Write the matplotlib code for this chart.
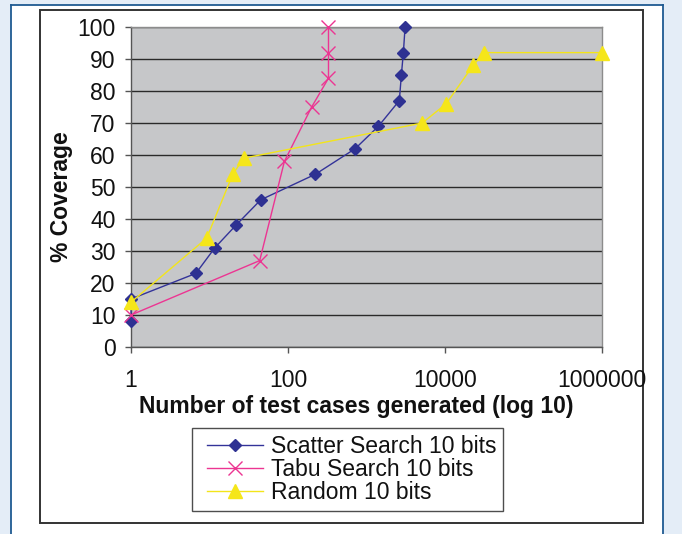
import matplotlib
matplotlib.use('Agg')
import matplotlib.pyplot as plt
from matplotlib.patches import Rectangle
from matplotlib.lines import Line2D
from matplotlib.ticker import FixedLocator, FixedFormatter, NullLocator
from matplotlib.legend_handler import HandlerLine2D

plt.rcParams['font.family'] = ['Liberation Sans', 'DejaVu Sans']

# ---- data ----
scatter_x = [1, 1, 6.7, 11.7, 21.6, 45, 224, 720, 1420, 2620, 2780, 2950, 3100]
scatter_y = [8, 15, 23, 31, 38, 46, 54, 62, 69, 77, 85, 92, 100]

tabu_x = [1, 43.6, 90, 200, 328, 328, 328]
tabu_y = [10, 27, 58, 75, 84, 92, 100]

random_x = [1, 9.2, 19.8, 27.3, 5130, 10360, 22800, 31500, 1000000]
random_y = [14, 34, 54, 59, 70, 76, 88, 92, 92]

x_ticks = [1, 100, 10000, 1000000]
x_tick_labels = ['1', '100', '10000', '1000000']
y_ticks = list(range(0, 101, 10))

series_names = ['Scatter Search 10 bits', 'Tabu Search 10 bits', 'Random 10 bits']

W, H = 682, 534
fig = plt.figure(figsize=(W / 100, H / 100), dpi=100)
fig.patch.set_facecolor('#E4EDF7')

def fx(px):
    return px / W

def fy(py):
    return 1 - py / H

# white panel with blue edges
fig.patches.append(Rectangle((fx(11), 0), fx(663) - fx(11), fy(5), transform=fig.transFigure,
                             facecolor='white', edgecolor='none', zorder=-3))
for xs, ys in [([fx(11), fx(11)], [0, fy(5)]), ([fx(663), fx(663)], [0, fy(5)]),
               ([fx(11), fx(663)], [fy(5), fy(5)])]:
    fig.lines.append(Line2D(xs, ys, transform=fig.transFigure, color='#1F5A92', lw=1.3, zorder=-2))
# black chart border
fig.patches.append(Rectangle((fx(40), fy(523)), fx(643) - fx(40), fy(9.5) - fy(523),
                             transform=fig.transFigure, facecolor='none', edgecolor='#333333',
                             lw=1.4, zorder=-1))

ax = fig.add_axes([fx(131), fy(347), fx(602) - fx(131), fy(27) - fy(347)])
ax.set_facecolor('#C6C7C9')
ax.set_xscale('log')
ax.set_xlim(1, 1000000)
ax.set_ylim(0, 100)

ax.xaxis.set_major_locator(FixedLocator(x_ticks))
ax.xaxis.set_major_formatter(FixedFormatter(x_tick_labels))
ax.xaxis.set_minor_locator(NullLocator())
ax.set_yticks(y_ticks)
ax.set_yticklabels([str(v) for v in y_ticks])

ax.grid(axis='y', color='#2A2A2A', lw=1.0, zorder=0)
ax.set_axisbelow(True)
for s in ['top', 'right']:
    ax.spines[s].set_color('#8C8C8C')
    ax.spines[s].set_linewidth(1.0)
for s in ['left', 'bottom']:
    ax.spines[s].set_color('#555555')
    ax.spines[s].set_linewidth(1.0)

ax.tick_params(axis='x', direction='out', length=4, width=1, color='#555555',
               labelsize=16.5, pad=12, labelcolor='#111111')
ax.tick_params(axis='y', direction='out', length=4, width=1, color='#555555',
               labelsize=16.5, pad=7, labelcolor='#111111')

l1, = ax.plot(scatter_x, scatter_y, color='#333399', lw=1.0, marker='D', ms=6.6,
              markerfacecolor='#2E3192', markeredgecolor='#2E3192', label=series_names[0],
              zorder=3, clip_on=False)
l2, = ax.plot(tabu_x, tabu_y, color='#EC3592', lw=1.0, marker='x', ms=9.5, mew=1.0,
              markeredgecolor='#EC3592', label=series_names[1], zorder=4, clip_on=False)
l3, = ax.plot(random_x, random_y, color='#F3E51A', lw=1.0, marker='^', ms=10.5,
              markerfacecolor='#F5E61A', markeredgecolor='#F5E61A', label=series_names[2],
              zorder=5, clip_on=False)

ax.set_xlabel('Number of test cases generated (log 10)', fontsize=16.5, fontweight='bold', color='#111111')
ax.xaxis.set_label_coords((356 - 131) / 471, -(406 - 347) / 320)
ax.xaxis.label.set_va('center')
ax.set_ylabel('% Coverage', fontsize=16.5, fontweight='bold', color='#111111')
ax.yaxis.set_label_coords((62 - 131) / 471, (347 - 197) / 320)
ax.yaxis.label.set_va('center')

hmap = {h: HandlerLine2D(xpad=0.35) for h in (l1, l2, l3)}
leg = fig.legend(handles=[l1, l2, l3], labels=series_names, handler_map=hmap,
                 loc='upper left', bbox_to_anchor=(fx(192), fy(428)), bbox_transform=fig.transFigure,
                 fontsize=16.5, frameon=True, fancybox=False, edgecolor='#222222',
                 handlelength=2.78, handletextpad=0.35, labelspacing=0.0, borderpad=0.3,
                 borderaxespad=0)
leg.get_frame().set_linewidth(1.0)
for t in leg.get_texts():
    t.set_color('#111111')

fig.savefig('out.png', dpi=100, facecolor=fig.get_facecolor())
